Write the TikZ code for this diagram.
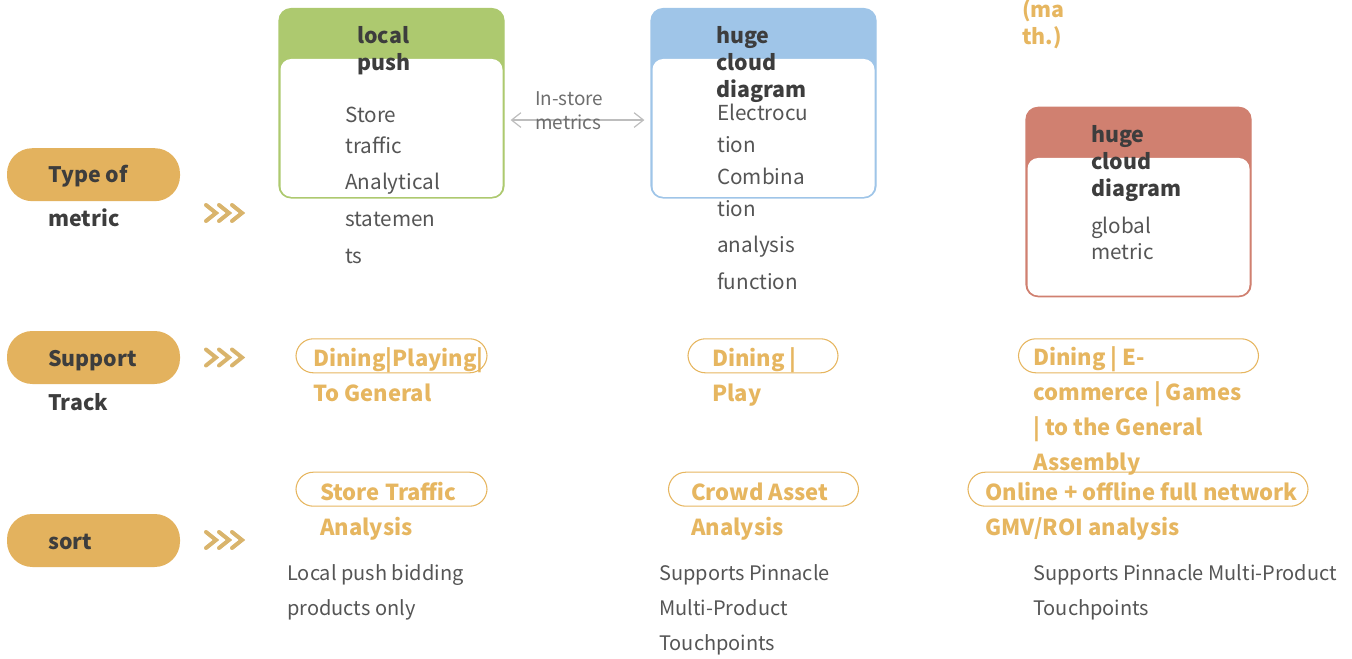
\documentclass[tikz,border=0pt]{standalone}
\usepackage{fontspec}
\setmainfont{Noto Sans CJK SC}
\usetikzlibrary{arrows.meta}
\definecolor{tagorange}{HTML}{E3B25E}
\definecolor{txtorange}{HTML}{E6B660}
\definecolor{chev}{HTML}{D9B46C}
\definecolor{hdgreen}{HTML}{ADC96F}
\definecolor{hdblue}{HTML}{9FC5E8}
\definecolor{hdred}{HTML}{D08070}
\definecolor{ink}{HTML}{3D3D3D}
\definecolor{soft}{HTML}{555555}
\definecolor{wire}{HTML}{BDBDBD}
\tikzset{
  tag/.style={shape=rectangle, fill=tagorange, rounded corners=19pt, minimum width=129.75pt, minimum height=39.75pt},
  chip/.style={shape=rectangle, draw=txtorange, line width=0.8pt, rounded corners=13pt, minimum height=25.5pt},
  card/.style={shape=rectangle, line width=0.9pt, rounded corners=9pt, minimum width=168.75pt, minimum height=142pt},
  txt/.style={anchor=base west, inner sep=0pt, align=left},
  rowname/.style={txt, text=ink, font=\fontsize{16}{33}\selectfont\bfseries},
  head/.style={txt, text=ink, font=\fontsize{16}{20.25}\selectfont\bfseries},
  body/.style={txt, text=soft, font=\fontsize{15.5}{24}\selectfont},
  track/.style={txt, text=txtorange, font=\fontsize{16.5}{26.25}\selectfont\bfseries},
  note/.style={txt, text=soft, font=\fontsize{15}{26.25}\selectfont},
}
\begin{document}
\begin{tikzpicture}[x=0.75pt, y=-0.75pt]
\useasboundingbox (0,0) rectangle (1352,659);
% row names
\node[tag] (typetag) at (93.5,174.7) {};
\node[tag] (supporttag) at (93.5,357.5) {};
\node[tag] (sorttag) at (93.5,540.5) {};
\node[rowname] (typename) at (48,227) {Type of\\metric};
\node[rowname] (supportname) at (48,410) {Support\\Track};
\node[rowname] (sortname) at (48,549) {sort};
\foreach \y in {213,357.5,540} {
  \foreach \i in {0,1,2} {
    \draw[chev, line width=3pt, line cap=round] (206+13*\i,\y-8) -- (216+13*\i,\y) -- (206+13*\i,\y+8);
  }
}
% cards
\node[card, fill=hdgreen, draw=hdgreen] (push) at (391.5,103.25) {};
\node[card, fill=hdblue, draw=hdblue] (cloud) at (763.5,103.25) {};
\node[card, fill=hdred, draw=hdred] (global) at (1138.5,202) {};
\fill[white, rounded corners=8pt] (280.5,59) rectangle (502.5,196.8);
\fill[white, rounded corners=8pt] (652.5,59) rectangle (874.5,196.8);
\fill[white, rounded corners=8pt] (1027.5,158) rectangle (1249.5,295.5);
\node[head] (pushhead) at (357,70.7) {local\\push};
\node[head] (cloudhead) at (716,98) {huge\\cloud\\diagram};
\node[head] (globalhead) at (1091,196.7) {huge\\cloud\\diagram};
\node[txt, text=txtorange, font=\fontsize{16}{20.6}\selectfont\bfseries] (math) at (1022,45) {(ma\\th.)};
\node[body, font=\fontsize{15.5}{23.4}\selectfont] (pushbody) at (345,263.3) {Store\\traffic\\[4.1pt]Analytical\\[4.1pt]statemen\\[4.1pt]ts};
\node[body] (cloudbody) at (717,289.3) {Electrocu\\tion\\Combina\\tion\\[3.3pt]analysis\\[3.3pt]function};
\node[body, font=\fontsize{15.5}{20.25}\selectfont] (globalbody) at (1091,260) {global\\metric};
\draw[{Straight Barb[length=7pt,width=11pt]}-{Straight Barb[length=7pt,width=11pt]}, draw=wire, line width=0.9pt, shorten <=4.5pt, shorten >=4.5pt] ([yshift=-12.6pt]push.east) -- ([yshift=-12.6pt]cloud.west);
\node[txt, text=soft!85, font=\fontsize{14.2}{18}\selectfont] (instore) at (535,130) {In-store\\metrics};
% tracks
\node[chip, minimum width=143.25pt] (trackA) at (391.5,355.8) {};
\node[chip, minimum width=112.5pt] (trackB) at (763,355.8) {};
\node[chip, minimum width=180pt] (trackC) at (1138.5,355.8) {};
\node[track] (trackAtext) at (313,401.7) {Dining|Playing|\\To General};
\node[track] (trackBtext) at (712,401.7) {Dining |\\Play};
\node[track] (trackCtext) at (1033,470) {Dining | E-\\commerce | Games\\| to the General\\Assembly};
% sorts
\node[chip, minimum width=143.25pt] (sortA) at (391.5,489.2) {};
\node[chip, minimum width=142.5pt] (sortB) at (763.5,489.2) {};
\node[chip, minimum width=255pt] (sortC) at (1138,489.2) {};
\node[track] (sortAtext) at (320,535) {Store Traffic\\Analysis};
\node[track] (sortBtext) at (691,535) {Crowd Asset\\Analysis};
\node[track] (sortCtext) at (985,535) {Online + offline full network\\GMV/ROI analysis};
\node[note] (noteA) at (287,615) {Local push bidding\\products only};
\node[note] (noteB) at (659,650) {Supports Pinnacle\\Multi-Product\\Touchpoints};
\node[note] (noteC) at (1033,615) {Supports Pinnacle Multi-Product\\Touchpoints};
\end{tikzpicture}
\end{document}
